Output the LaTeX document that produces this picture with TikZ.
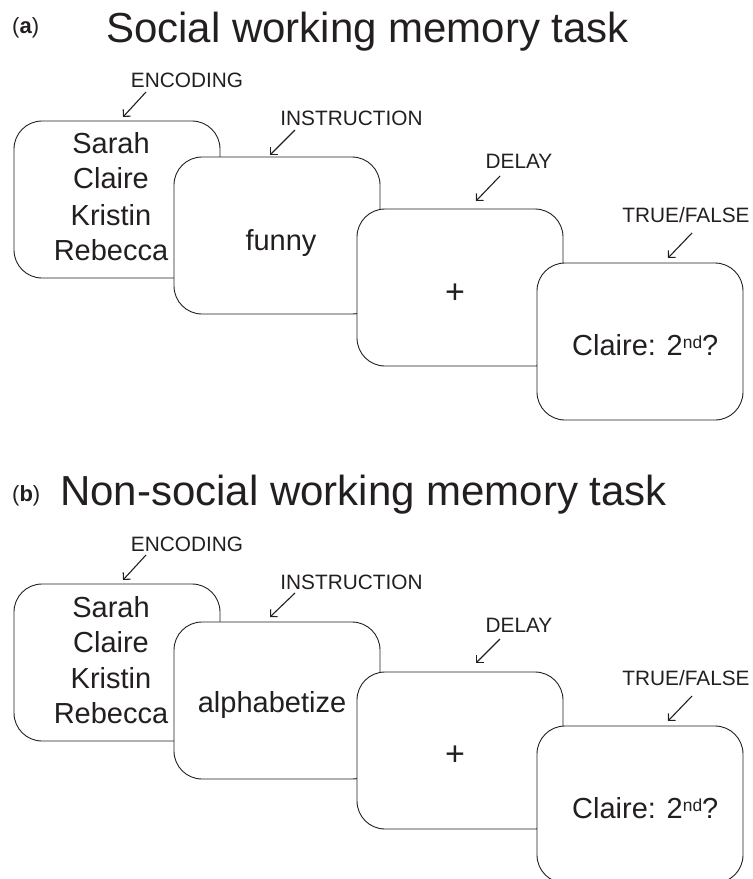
\documentclass[tikz,border=0pt]{standalone}
\usepackage{fontspec}
\setmainfont{Liberation Sans}
\usetikzlibrary{arrows.meta}
\definecolor{ink}{HTML}{231F20}
\newcommand{\ordsup}[1]{\raisebox{6.7pt}{\fontsize{17.4}{20}\selectfont #1}}
\begin{document}
\begin{tikzpicture}[x=1pt,y=-1pt,
  card/.style={draw=ink, line width=0.9pt, fill=white, rounded corners=28pt, minimum width=206pt, minimum height=157pt, inner sep=0pt},
  stage/.style={font=\fontsize{20.8}{25}\selectfont, text=ink, anchor=base, inner sep=0pt},
  word/.style={font=\fontsize{29}{35}\selectfont, text=ink, anchor=base, inner sep=0pt},
  wordw/.style={word, anchor=base west},
  cross/.style={font=\fontsize{34}{40}\selectfont, text=ink, anchor=base, inner sep=0pt},
  ttl/.style={font=\fontsize{42}{50}\selectfont, text=ink, anchor=base west, inner sep=0pt},
  tag/.style={font=\fontsize{22}{26}\selectfont, text=ink, anchor=base west, inner sep=0pt},
  pointer/.style={draw=ink, line width=1.1pt, -{Straight Barb[length=5pt,width=10pt]}}
]
\useasboundingbox (0,0) rectangle (753,879);

% ---------- panel (a) ----------
\node[tag] (atag) at (12,33) {(\textbf{a})};
\node[ttl] (attl) at (106,42) {Social working memory task};

\node[card] (a1) at (117,199.5) {};
\node[word] (a1s) at (111,153.6) {Sarah};
\node[word] (a1c) at (111,188.8) {Claire};
\node[word] (a1k) at (111,225) {Kristin};
\node[word] (a1r) at (111,260.5) {Rebecca};
\node[card] (a2) at (277,235.5) {};
\node[word] (a2t) at (281,250) {funny};
\node[card] (a3) at (460,287.5) {};
\node[cross] (a3t) at (455,303) {+};
\node[card] (a4) at (640,341.5) {};
\node[wordw] (a4t) at (572,355) {Claire: 2\ordsup{nd}?};

\node[stage] (aenc) at (187,87.5) {ENCODING};
\node[stage] (ains) at (351.5,125.5) {INSTRUCTION};
\node[stage] (adel) at (519,168.5) {DELAY};
\node[stage] (atf) at (686,222.5) {TRUE/FALSE};
\coordinate (aencA) at (146,92);  \coordinate (aencB) at (123,117);
\coordinate (ainsA) at (295,130); \coordinate (ainsB) at (270,155);
\coordinate (adelA) at (500,176); \coordinate (adelB) at (476,201);
\coordinate (atfA) at (692,233);  \coordinate (atfB) at (668,258);
\draw[pointer] (aencA) -- (aencB);
\draw[pointer] (ainsA) -- (ainsB);
\draw[pointer] (adelA) -- (adelB);
\draw[pointer] (atfA) -- (atfB);

% ---------- panel (b) ----------
\node[tag] (btag) at (12,501) {(\textbf{b})};
\node[ttl] (bttl) at (60,505) {Non-social working memory task};

\node[card] (b1) at (117,662.5) {};
\node[word] (b1s) at (111,617.6) {Sarah};
\node[word] (b1c) at (111,652.6) {Claire};
\node[word] (b1k) at (111,688.6) {Kristin};
\node[word] (b1r) at (111,723.6) {Rebecca};
\node[card] (b2) at (277,700.5) {};
\node[word] (b2t) at (272,712.7) {alphabetize};
\node[card] (b3) at (460,750.5) {};
\node[cross] (b3t) at (455,765) {+};
\node[card] (b4) at (640,804.5) {};
\node[wordw] (b4t) at (572,818) {Claire: 2\ordsup{nd}?};

\node[stage] (benc) at (187,551.5) {ENCODING};
\node[stage] (bins) at (351.5,589.5) {INSTRUCTION};
\node[stage] (bdel) at (519,632.5) {DELAY};
\node[stage] (btf) at (686,685.5) {TRUE/FALSE};
\coordinate (bencA) at (146,555);  \coordinate (bencB) at (123,580);
\coordinate (binsA) at (295,593);  \coordinate (binsB) at (270,617);
\coordinate (bdelA) at (500,639);  \coordinate (bdelB) at (476,663);
\coordinate (btfA) at (692,696);   \coordinate (btfB) at (668,721);
\draw[pointer] (bencA) -- (bencB);
\draw[pointer] (binsA) -- (binsB);
\draw[pointer] (bdelA) -- (bdelB);
\draw[pointer] (btfA) -- (btfB);
\end{tikzpicture}
\end{document}
